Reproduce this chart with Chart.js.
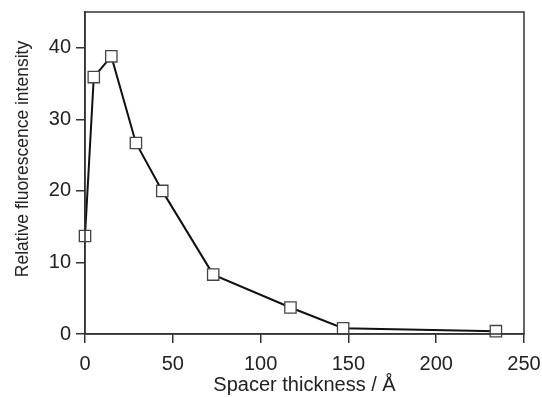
<!DOCTYPE html>
<html>
<head>
<meta charset="utf-8">
<script src="https://cdn.jsdelivr.net/npm/chart.js@4"></script>
<style>
  html, body { margin: 0; padding: 0; background: #fff; }
  #wrap { width: 542px; height: 397px; }
</style>
</head>
<body>
<div id="wrap"><canvas id="chart" width="542" height="397"></canvas></div>
<script>
// spacer thickness (Å) and relative fluorescence intensity
const thickness = [0, 5, 15, 29, 44, 73, 117, 147, 234];
const intensity = [13.7, 35.9, 38.8, 26.7, 20.0, 8.3, 3.7, 0.8, 0.4];
const xTicks = [0, 50, 100, 150, 200, 250];
const yTicks = [0, 10, 20, 30, 40];
const yTitle = 'Relative fluorescence intensity';

const points = thickness.map((t, i) => ({ x: t, y: intensity[i] }));

// box around the plot area, plus the y title (sits a bit above centre in the original)
const frame = {
  id: 'frame',
  afterDraw(c) {
    const a = c.chartArea, ctx = c.ctx;
    ctx.save();
    ctx.strokeStyle = '#333';
    ctx.lineWidth = 1.5;
    ctx.strokeRect(a.left, a.top, a.right - a.left, a.bottom - a.top);
    ctx.translate(23, 159);
    ctx.rotate(-Math.PI / 2);
    ctx.fillStyle = '#222';
    ctx.font = '17.5px "Liberation Sans", Arial';
    ctx.textAlign = 'center';
    ctx.textBaseline = 'middle';
    ctx.fillText(yTitle, 0, 0);
    ctx.restore();
  }
};

new Chart(document.getElementById('chart').getContext('2d'), {
  type: 'scatter',
  data: {
    datasets: [{
      data: points,
      showLine: true,
      clip: false,
      borderColor: '#111',
      borderWidth: 2,
      pointStyle: 'rect',
      pointRadius: 8,
      pointHoverRadius: 8,
      pointBackgroundColor: '#fff',
      pointBorderColor: '#444',
      pointBorderWidth: 1.3,
      tension: 0
    }]
  },
  options: {
    responsive: false,
    animation: false,
    layout: { padding: { top: 12, right: 18, left: 0, bottom: 0 } },
    plugins: { legend: { display: false }, tooltip: { enabled: false } },
    scales: {
      x: {
        type: 'linear',
        min: 0, max: 250,
        afterFit: s => { s.height = 63; s.paddingLeft = 0; s.paddingRight = 0; },
        afterBuildTicks: s => { s.ticks = xTicks.map(v => ({ value: v })); },
        grid: { drawOnChartArea: false, drawTicks: true, tickLength: 9, color: '#333', lineWidth: 1.5 },
        border: { color: '#333', width: 1.5 },
        ticks: { color: '#222', font: { family: 'Liberation Sans, Arial', size: 20 }, padding: 9, maxRotation: 0 },
        title: { display: true, text: 'Spacer thickness / Å', color: '#222',
                 font: { family: 'Liberation Sans, Arial', size: 20 }, padding: { top: 0, bottom: 0 } }
      },
      y: {
        type: 'linear',
        min: 0, max: 45,
        afterFit: s => { s.width = 85; s.paddingTop = 0; s.paddingBottom = 0; },
        afterBuildTicks: s => { s.ticks = yTicks.map(v => ({ value: v })); },
        grid: { drawOnChartArea: false, drawTicks: true, tickLength: 9, color: '#333', lineWidth: 1.5 },
        border: { color: '#333', width: 1.5 },
        ticks: { color: '#222', font: { family: 'Liberation Sans, Arial', size: 20 }, padding: 5 }
      }
    }
  },
  plugins: [frame]
});
</script>
</body>
</html>
